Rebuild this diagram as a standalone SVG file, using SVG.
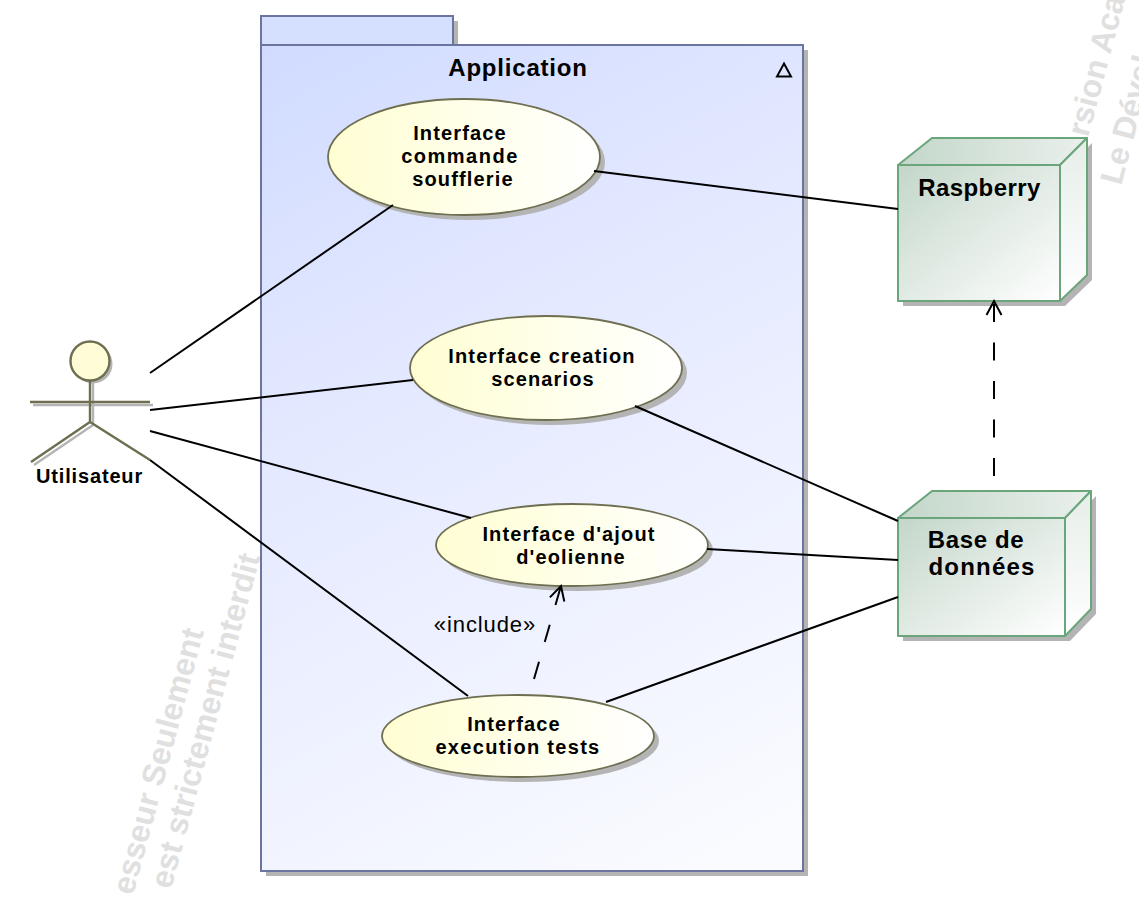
<svg xmlns="http://www.w3.org/2000/svg" width="1139" height="897" viewBox="0 0 1139 897">
<style>
text{font-family:"Liberation Sans",Arial,sans-serif;fill:#000;text-anchor:middle}
.uc{font-size:20px;font-weight:bold;letter-spacing:1.15px}
.nd{font-size:24px;font-weight:bold}
.wm{font-size:32px;fill:#e0e0e0;text-anchor:start;font-weight:bold}
.sh{fill:#b4b4b4;stroke:none}
.case{fill:url(#gCase);stroke:#6e6e50;stroke-width:1.800}
.face{stroke:#6aa57c;stroke-width:2;stroke-linejoin:round}
.act{fill:none;stroke:#6e6e50;stroke-width:2.400}
.actsh{fill:none;stroke:#b4b4b4;stroke-width:2.400}
.con{fill:none;stroke:#000;stroke-width:2}
.dash{stroke-dasharray:18 20.500}
</style>
<defs>
<linearGradient id="gPkg" gradientUnits="userSpaceOnUse" x1="261" y1="45" x2="700" y2="871"><stop offset="0" stop-color="#d0dbff"/><stop offset=".3" stop-color="#e0e6ff"/><stop offset="1" stop-color="#fafbff"/></linearGradient>
<linearGradient id="gCase" x1="0" y1="0" x2="1" y2="0"><stop offset="0" stop-color="#fffed2"/><stop offset="1" stop-color="#ffffff"/></linearGradient>
<linearGradient id="gFront" x1="0" y1="0" x2="1" y2="1"><stop offset="0" stop-color="#c3d6c9"/><stop offset="1" stop-color="#ffffff"/></linearGradient>
<linearGradient id="gTop" x1="0" y1="0" x2="1" y2="0"><stop offset="0" stop-color="#c3d6c9"/><stop offset="1" stop-color="#eaf0ec"/></linearGradient>
<linearGradient id="gSide" x1="0" y1="0" x2="0" y2="1"><stop offset="0" stop-color="#e6eee9"/><stop offset="1" stop-color="#ffffff"/></linearGradient>
<marker id="open" markerUnits="userSpaceOnUse" markerWidth="18" markerHeight="18" refX="15" refY="9" orient="auto"><path d="M1 1.500 L15 9 L1 16.500" fill="none" stroke="#000" stroke-width="2"/></marker>
</defs>
<rect width="1139" height="897" fill="#fff"/>
<g id="watermark">
<text class="wm" transform="translate(133,896) rotate(-75)">esseur Seulement</text>
<text class="wm" transform="translate(171,890) rotate(-75)">est strictement interdit</text>
<text class="wm" transform="translate(1088,138) rotate(-75)">rsion Aca</text>
<text class="wm" transform="translate(1121,186) rotate(-75)">Le Dével</text>
</g>
<g id="package-application">
<path class="sh" d="M453 21H458V50H453Z"/>
<rect class="sh" x="266" y="50" width="542" height="826"/>
<rect x="261" y="16" width="192" height="29" fill="#d5dffe" stroke="#6b75a0" stroke-width="2"/>
<rect x="261" y="45" width="542" height="826" fill="url(#gPkg)" stroke="#6b75a0" stroke-width="2"/>
<text x="518" y="76" style="font-size:24px;font-weight:bold;letter-spacing:.8px">Application</text>
<path d="M784 63.500L791 76.500H777Z" fill="none" stroke="#000" stroke-width="2"/>
</g>
<g id="uc-commande">
<ellipse class="sh" cx="469" cy="162" rx="136" ry="58"/>
<ellipse class="case" cx="464" cy="157" rx="136" ry="58"/>
<text class="uc" x="460" y="140">Interface</text>
<text class="uc" x="460" y="163" style="letter-spacing:1.5px">commande</text>
<text class="uc" x="463" y="186">soufflerie</text>
</g>
<g id="uc-creation">
<ellipse class="sh" cx="551" cy="373" rx="136" ry="52"/>
<ellipse class="case" cx="546" cy="368" rx="136" ry="52"/>
<text class="uc" x="542" y="363">Interface creation</text>
<text class="uc" x="543" y="386">scenarios</text>
</g>
<g id="uc-ajout">
<ellipse class="sh" cx="577" cy="550" rx="136" ry="41"/>
<ellipse class="case" cx="572" cy="545" rx="136" ry="41"/>
<text class="uc" x="569" y="541">Interface d'ajout</text>
<text class="uc" x="571" y="564">d'eolienne</text>
</g>
<g id="uc-execution">
<ellipse class="sh" cx="523" cy="741" rx="136" ry="41"/>
<ellipse class="case" cx="518" cy="736" rx="136" ry="41"/>
<text class="uc" x="514" y="731">Interface</text>
<text class="uc" x="518" y="754" style="letter-spacing:1.3px">execution tests</text>
</g>
<g id="actor-utilisateur">
<circle class="sh" cx="93" cy="364" r="19.500"/>
<path class="actsh" d="M93 382V425M33 405H153M34 465L93 425"/>
<circle cx="90" cy="361" r="19.500" fill="#fffdd8" stroke="#6e6e50" stroke-width="2.400"/>
<path class="act" d="M90 381V422M30 402H150M31 462L90 422L150 460"/>
<text x="89.500" y="483" style="font-size:20px;font-weight:bold;letter-spacing:.85px">Utilisateur</text>
</g>
<g id="node-raspberry">
<path class="sh" d="M903 170H1065L1092 143V280L1065 306H903Z"/>
<path class="face" fill="url(#gTop)" d="M898 165L932 138H1087L1060 165Z"/>
<path class="face" fill="url(#gSide)" d="M1060 165L1087 138V275L1060 301Z"/>
<rect class="face" fill="url(#gFront)" x="898" y="165" width="162" height="136"/>
<text class="nd" x="979.500" y="196" style="letter-spacing:.4px">Raspberry</text>
</g>
<g id="node-base">
<path class="sh" d="M903 523H1070L1096 496V614L1070 641H903Z"/>
<path class="face" fill="url(#gTop)" d="M898 518L932 491H1091L1065 518Z"/>
<path class="face" fill="url(#gSide)" d="M1065 518L1091 491V609L1065 636Z"/>
<rect class="face" fill="url(#gFront)" x="898" y="518" width="167" height="118"/>
<text class="nd" x="976" y="548" style="letter-spacing:.6px">Base de</text>
<text class="nd" x="982" y="575" style="letter-spacing:1.200px">données</text>
</g>
<g id="connectors">
<path class="con" d="M150 373L393 205"/>
<path class="con" d="M150 410L413 380"/>
<path class="con" d="M150 431L471 518"/>
<path class="con" d="M150 460L468 696"/>
<path class="con" d="M594 171L898 209"/>
<path class="con" d="M635 406L898 521"/>
<path class="con" d="M707 549L898 560"/>
<path class="con" d="M606 702L898 597"/>
<path class="con dash" marker-end="url(#open)" d="M994 476V301"/>
<path class="con dash" marker-end="url(#open)" d="M534 679L561 586"/>
<text x="485" y="632" style="font-size:22px;letter-spacing:.9px">«include»</text>
</g>
</svg>
